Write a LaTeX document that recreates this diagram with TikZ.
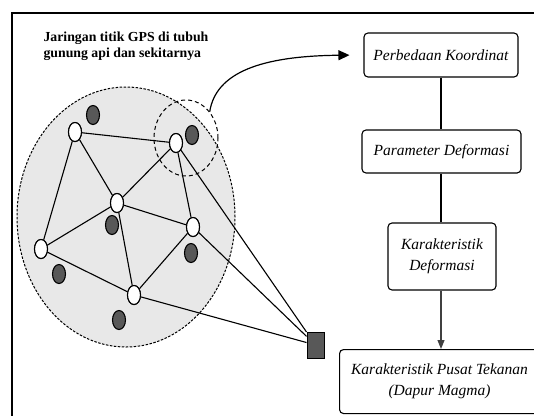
\documentclass[tikz,border=0pt]{standalone}
\usepackage{fontspec}
\setmainfont{Liberation Serif}
\usetikzlibrary{arrows.meta,shapes.geometric}
\definecolor{bgray}{RGB}{232,232,232}
\definecolor{dgray}{RGB}{88,88,88}
\begin{document}
\begin{tikzpicture}[x=1pt,y=-1pt,
  wnode/.style={draw, fill=white, ellipse, line width=1.1pt, minimum width=13pt, minimum height=19pt, inner sep=0pt},
  dnode/.style={draw, fill=dgray, ellipse, line width=1.1pt, minimum width=13pt, minimum height=19pt, inner sep=0pt},
  link/.style={line width=1.1pt},
  rbox/.style={draw, rounded corners=4pt, line width=1.1pt, align=center, inner sep=2pt,
    font=\itshape\fontsize{15.5}{21}\selectfont},
  flow/.style={line width=1.1pt}
]
\useasboundingbox (0,0) rectangle (534,415);
\clip (0,0) rectangle (534,415);
\draw[line width=2pt] (12,13) rectangle (560,440);

% region
\node[draw, ellipse, fill=bgray, dash pattern=on 2.5pt off 1.5pt, line width=1pt,
      minimum width=218pt, minimum height=260pt, inner sep=0pt] (mt) at (126,217) {};
\node[draw, ellipse, dash pattern=on 4pt off 3pt, line width=1pt,
      minimum width=64pt, minimum height=76pt, inner sep=0pt] (zoomc) at (186,138) {};

\node[anchor=north west, align=left, font=\bfseries\fontsize{13.8}{16}\selectfont] (title) at (40,28)
  {Jaringan titik GPS di tubuh\\gunung api dan sekitarnya};

% GPS points
\node[wnode] (A) at (75,132) {};
\node[wnode] (B) at (176,143) {};
\node[wnode] (C) at (117,203) {};
\node[wnode] (D) at (193,227) {};
\node[wnode] (E) at (41,249) {};
\node[wnode] (F) at (134,295) {};

\node[draw, fill=dgray, line width=1pt, minimum width=17pt, minimum height=26pt, inner sep=0pt] (sq) at (315.5,345) {};

\draw[link] (A) -- (B);
\draw[link] (A) -- (C);
\draw[link] (A) -- (E);
\draw[link] (B) -- (C);
\draw[link] (B) -- (D);
\draw[link] (C) -- (E);
\draw[link] (C) -- (D);
\draw[link] (C) -- (F);
\draw[link] (D) -- (F);
\draw[link] (E) -- (F);
\draw[link] (B) -- (sq);
\draw[link] (D) -- (sq);
\draw[link] (F) -- (sq);

\foreach \n in {A,B,C,D,E,F} {\node[wnode] at (\n) {};}

\node[dnode] (g1) at (93,115) {};
\node[dnode] (g2) at (192,135) {};
\node[dnode] (g3) at (112,225) {};
\node[dnode] (g4) at (191,253) {};
\node[dnode] (g5) at (59,274) {};
\node[dnode] (g6) at (119,320) {};

% boxes
\node[rbox, minimum width=154pt, minimum height=44pt] (b1) at (441,55) {Perbedaan Koordinat};
\node[rbox, minimum width=159pt, minimum height=43pt] (b2) at (441.5,151.5) {Parameter Deformasi};
\node[rbox, minimum width=108pt, minimum height=67pt] (b3) at (442,256.5) {Karakteristik\\Deformasi};
\node[rbox, minimum width=200pt, minimum height=64pt, anchor=north west] (b4) at (339,349)
  {Karakteristik Pusat Tekanan\\(Dapur Magma)};

\draw[flow] (b1.south -| 441,0) -- (b2.north -| 441,0);
\draw[flow] (b2.south -| 441,0) -- (b3.north -| 441,0);
\draw[flow, black!75, -{Triangle[length=9pt,width=7pt]}] (b3.south -| 441,0) -- (b4.north -| 441,0);

\draw[line width=1.2pt, shorten >=14pt, -{Triangle[length=11pt,width=10pt]}]
  (zoomc.48) .. controls (216,72) and (262,56) .. (b1.west);
\end{tikzpicture}
\end{document}
